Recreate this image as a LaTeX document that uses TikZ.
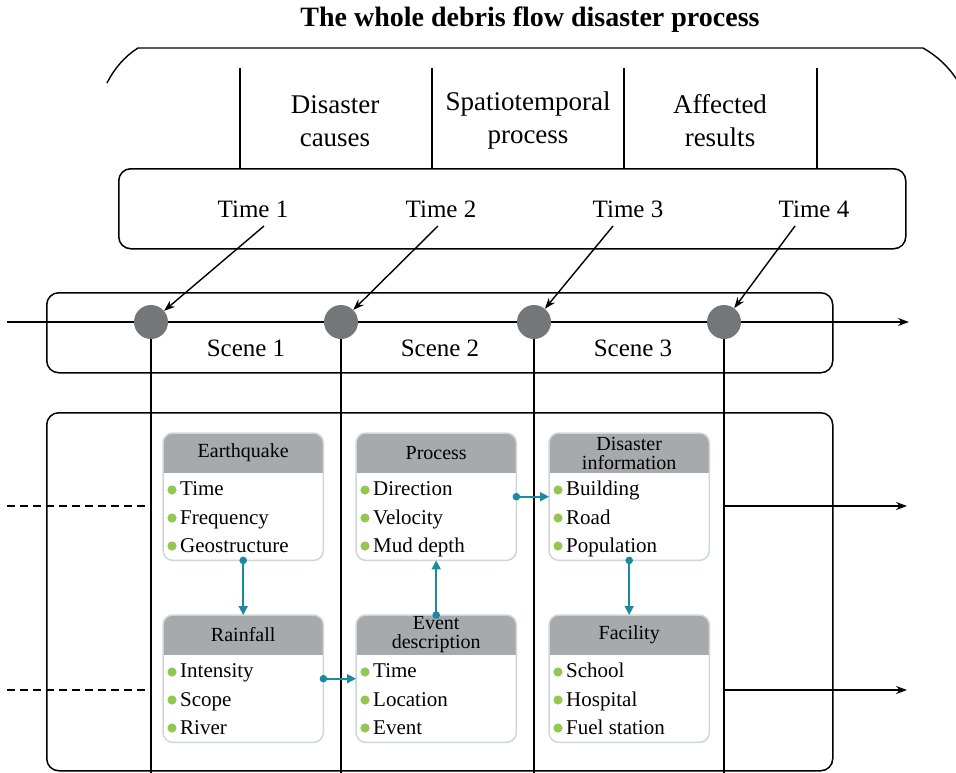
\documentclass[tikz,border=0pt]{standalone}
\usepackage{fontspec}
\setmainfont{Liberation Serif}
\usetikzlibrary{arrows.meta}
\definecolor{hdr}{RGB}{166,170,173}
\definecolor{cardline}{RGB}{208,213,216}
\definecolor{tealc}{RGB}{25,138,160}
\definecolor{bull}{RGB}{146,200,82}
\definecolor{dotgray}{RGB}{115,119,121}
\tikzset{
 line/.style={line width=1.4pt},
 blackarrow/.style={line width=1.4pt, -{Stealth[length=11pt,width=8pt]}},
 tconn/.style={draw=tealc, line width=1.6pt, -{Triangle[length=9pt,width=9pt]}},
 bigbox/.style={draw, line width=1.5pt, rounded corners=12pt, inner sep=0pt},
 cardnode/.style={minimum width=160pt, minimum height=127pt, inner sep=0pt, anchor=north west},
 cardtxt/.style={font=\fontsize{20}{19}\selectfont, inner sep=0pt, align=center},
 itemtxt/.style={font=\fontsize{21}{25}\selectfont, anchor=base west, inner sep=0pt},
 biglbl/.style={font=\fontsize{27}{33}\selectfont, align=center},
 timelbl/.style={font=\fontsize{25}{30}\selectfont},
 scdot/.style={circle, fill=dotgray, minimum size=34pt, inner sep=0pt},
}
\newcommand{\mkcard}[7]{%
 \node[cardnode] (#1) at (#2,#3) {};
 \begin{scope}
  \clip[rounded corners=10pt] (#1.north west) rectangle (#1.south east);
  \fill[hdr] (#1.north west) rectangle ([yshift=-40pt]#1.north east);
 \end{scope}
 \draw[cardline, line width=1.5pt, rounded corners=10pt] (#1.north west) rectangle (#1.south east);
 \node[cardtxt] (#1-h) at ([yshift=-20pt]#1.north) {#4};
 \fill[bull] ([xshift=9pt,yshift=-57pt]#1.north west) circle (4.6pt);
 \fill[bull] ([xshift=9pt,yshift=-85pt]#1.north west) circle (4.6pt);
 \fill[bull] ([xshift=9pt,yshift=-113pt]#1.north west) circle (4.6pt);
 \node[itemtxt] (#1-a) at ([xshift=17pt,yshift=-62pt]#1.north west) {#5};
 \node[itemtxt] (#1-b) at ([xshift=17pt,yshift=-91pt]#1.north west) {#6};
 \node[itemtxt] (#1-c) at ([xshift=17pt,yshift=-119pt]#1.north west) {#7};
}
\begin{document}
\begin{tikzpicture}[x=1pt,y=-1pt]
\useasboundingbox (0,0) rectangle (956,772);
% title
\node[font=\bfseries\fontsize{28}{34}\selectfont] (title) at (530,20) {The whole debris flow disaster process};
% top arc
\draw[line] (107,83) .. controls (114,69) and (125,56) .. (138,48) -- (923,48) .. controls (937,56) and (948,66) .. (957,80);
% time box
\node[bigbox, minimum width=787pt, minimum height=80pt, anchor=north west] (tbox) at (118,168) {};
\coordinate (v1) at (240,68);
\coordinate (v2) at (432,68);
\coordinate (v3) at (624,68);
\coordinate (v4) at (817,68);
\foreach \v in {v1,v2,v3,v4} \draw[line] (\v) -- (\v |- tbox.north);
\node[biglbl] (dc) at (335,121) {Disaster\\causes};
\node[biglbl] (sp) at (528,121) {Spatiotemporal\\process};
\node[biglbl] (ar) at (720,121) {Affected\\results};
\node[timelbl] (t1) at (253,209) {Time 1};
\node[timelbl] (t2) at (441,209) {Time 2};
\node[timelbl] (t3) at (628,209) {Time 3};
\node[timelbl] (t4) at (814,209) {Time 4};
% scene box
\node[bigbox, minimum width=786pt, minimum height=80pt, anchor=north west] (sbox) at (46,292) {};
\coordinate (axL) at (7,322);
\coordinate (axR) at (909,322);
\draw[blackarrow] (axL) -- (axR);
\node[scdot] (c1) at (151,322) {};
\node[scdot] (c2) at (341,322) {};
\node[scdot] (c3) at (534,322) {};
\node[scdot] (c4) at (724,322) {};
\coordinate (a1) at (264,226);
\coordinate (a2) at (438,226);
\coordinate (a3) at (613,226);
\coordinate (a4) at (795,226);
\draw[blackarrow] (a1) -- (c1);
\draw[blackarrow] (a2) -- (c2);
\draw[blackarrow] (a3) -- (c3);
\draw[blackarrow] (a4) -- (c4);
\node[timelbl] (s1) at (246,348) {Scene 1};
\node[timelbl] (s2) at (440,348) {Scene 2};
\node[timelbl] (s3) at (633,348) {Scene 3};
% lower box
\node[bigbox, minimum width=786pt, minimum height=358pt, anchor=north west] (lbox) at (46,412) {};
\coordinate (bot) at (0,773);
\draw[line] (c1.south) -- (c1 |- bot);
\draw[line] (c2.south) -- (c2 |- bot);
\draw[line] (c3.south) -- (c3 |- bot);
\draw[line] (c4.south) -- (c4 |- bot);
\coordinate (d1) at (7,506);
\coordinate (d2) at (7,690);
\draw[line, dash pattern=on 8pt off 5pt] (d1) -- (d1 -| c1);
\draw[line, dash pattern=on 8pt off 5pt] (d2) -- (d2 -| c1);
\coordinate (r1) at (907,506);
\coordinate (r2) at (907,690);
\draw[blackarrow] (r1 -| c4) -- (r1);
\draw[blackarrow] (r2 -| c4) -- (r2);
% cards
\mkcard{eq}{163}{433}{Earthquake}{Time}{Frequency}{Geostructure}
\mkcard{pr}{356}{433}{Process}{Direction}{Velocity}{Mud depth}
\mkcard{di}{549}{433}{Disaster\\information}{Building}{Road}{Population}
\mkcard{rf}{163}{615}{Rainfall}{Intensity}{Scope}{River}
\mkcard{ed}{356}{615}{Event\\description}{Time}{Location}{Event}
\mkcard{fa}{549}{615}{Facility}{School}{Hospital}{Fuel station}
% teal connectors
\fill[tealc] (eq.south) circle (3.8pt);
\draw[tconn] (eq.south) -- (rf.north);
\fill[tealc] (rf.east) circle (3.8pt);
\draw[tconn] (rf.east) -- (ed.west);
\fill[tealc] (ed.north) circle (3.8pt);
\draw[tconn] (ed.north) -- (pr.south);
\fill[tealc] (pr.east) circle (3.8pt);
\draw[tconn] (pr.east) -- (di.west);
\fill[tealc] (di.south) circle (3.8pt);
\draw[tconn] (di.south) -- (fa.north);
\end{tikzpicture}
\end{document}
